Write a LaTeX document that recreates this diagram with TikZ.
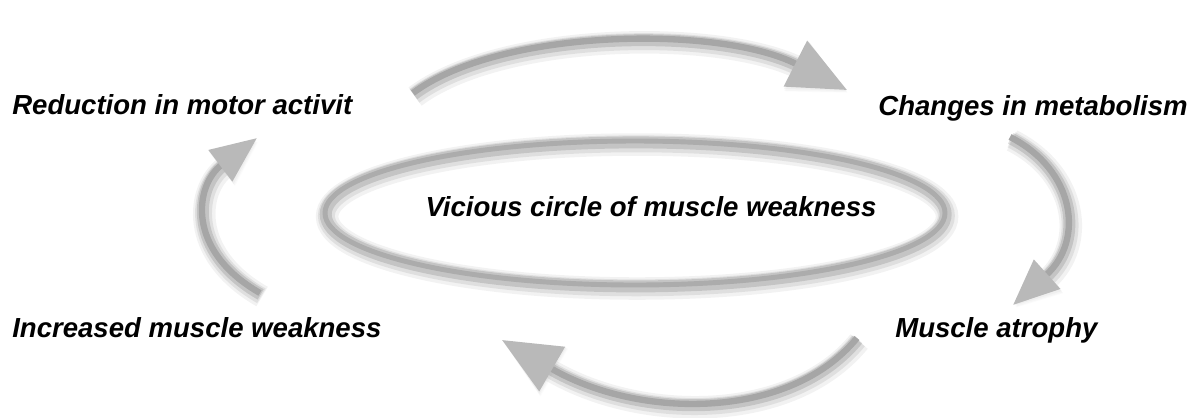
\documentclass[tikz,border=0pt]{standalone}
\usepackage{fontspec}
\setmainfont{Liberation Sans}
\usetikzlibrary{arrows.meta}

\newcommand{\lblfont}{\fontsize{19.6}{23}\selectfont\bfseries\itshape}

\tikzset{
  lbl/.style={font=\lblfont, inner sep=0pt},
  glow/.style={
    preaction={draw=black, opacity=0.05, line width=16pt, transform canvas={shift={(1.5pt,-2.5pt)}}},
    preaction={draw=black, opacity=0.08, line width=12pt, transform canvas={shift={(1pt,-2pt)}}},
    preaction={draw=black, opacity=0.12, line width=8.5pt, transform canvas={shift={(0.5pt,-1pt)}}}},
  bigturn/.style={glow, draw=gray!70, line width=4.5pt,
    -{Triangle[length=1.45cm, width=1.25cm, color=gray!55]}},
  smallturn/.style={glow, draw=gray!70, line width=4.5pt,
    -{Triangle[length=1.15cm, width=0.95cm, color=gray!55]}},
  ring/.style={glow, draw=gray!65, line width=3.5pt},
}

\begin{document}
\begin{tikzpicture}[x=0.025cm, y=-0.025cm]
    \useasboundingbox (0,0) rectangle (1197,417);

    % the four steps
    \node[lbl, anchor=base west] (red) at (12,114) {Reduction in motor activit};
    \node[lbl, anchor=base east] (meta) at (1188,115) {Changes in metabolism};
    \node[lbl, anchor=base west] (atro) at (895,337) {Muscle atrophy};
    \node[lbl, anchor=base west] (weak) at (12,337) {Increased muscle weakness};

    % centre ring
    \coordinate (eo) at (635,213);
    \draw[ring] (eo) ellipse [x radius=310, y radius=72];
    \node[lbl, anchor=base] (vc) at (651,216) {Vicious circle of muscle weakness};

    % arrow ends
    \coordinate (a1) at (413,93);
    \coordinate (b1) at (847,90);
    \coordinate (a2) at (1010,137);
    \coordinate (b2) at (1013,305);
    \coordinate (a3) at (857,338);
    \coordinate (b3) at (502,340);
    \coordinate (a4) at (260,293);
    \coordinate (b4) at (257,138);

    % arrows round the circle
    \draw[bigturn] (a1) .. controls (500,28) and (720,25) .. (b1);
    \draw[smallturn] (a2) .. controls (1075,170) and (1085,240) .. (b2);
    \draw[bigturn] (a3) .. controls (790,420) and (640,420) .. (b3);
    \draw[smallturn] (a4) .. controls (185,250) and (195,185) .. (b4);
\end{tikzpicture}
\end{document}
